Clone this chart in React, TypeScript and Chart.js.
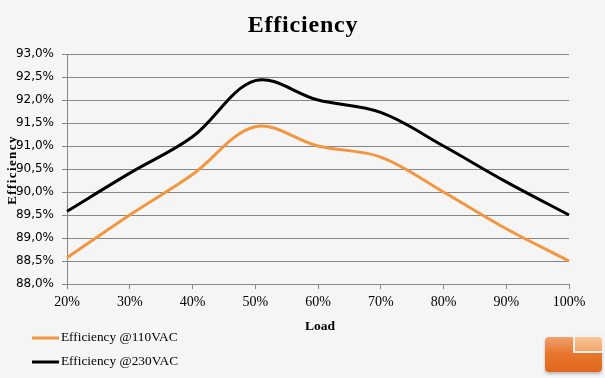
import { useEffect, useRef } from 'react';
import { Chart, registerables } from 'chart.js';

Chart.register(...registerables);

// ---- data ----
const loadLabels = ['20%', '30%', '40%', '50%', '60%', '70%', '80%', '90%', '100%'];
const eff110 = [88.57, 89.5, 90.38, 91.42, 91.0, 90.76, 90.0, 89.2, 88.5];
const eff230 = [89.58, 90.41, 91.2, 92.42, 92.0, 91.73, 91.0, 90.22, 89.5];
const series110Label = 'Efficiency @110VAC';
const series230Label = 'Efficiency @230VAC';
const yMin = 88;
const yMax = 93;
const yStep = 0.5;
const chartTitle = 'Efficiency';
const xTitle = 'Load';
const yTitle = 'Efficiency';

const GRID = '#868686';
const SERIF = '"Liberation Serif", "Times New Roman", serif';

const textPlugin = {
  id: 'excelTexts',
  afterDraw(chart: any) {
    const ctx = chart.ctx as CanvasRenderingContext2D;
    const area = chart.chartArea;
    ctx.save();
    ctx.fillStyle = '#000';
    ctx.textAlign = 'center';
    ctx.textBaseline = 'alphabetic';
    (ctx as any).letterSpacing = '0.8px';
    ctx.font = `bold 24px ${SERIF}`;
    ctx.fillText(chartTitle, chart.width / 2 + 0.5, 32);
    (ctx as any).letterSpacing = '0px';
    ctx.font = `bold 13.5px ${SERIF}`;
    ctx.fillText(xTitle, (area.left + area.right) / 2 + 2, 329.5);
    ctx.restore();

    ctx.save();
    ctx.fillStyle = '#000';
    ctx.translate(13, (area.top + area.bottom) / 2 + 1);
    ctx.rotate(-Math.PI / 2);
    (ctx as any).letterSpacing = '1.4px';
    ctx.textAlign = 'center';
    ctx.textBaseline = 'middle';
    ctx.font = `bold 13px ${SERIF}`;
    ctx.fillText(yTitle, 0, 0);
    ctx.restore();

    // legend
    ctx.save();
    chart.data.datasets.forEach((ds: any, i: number) => {
      const y = 338 + i * 24;
      ctx.strokeStyle = ds.borderColor;
      ctx.lineWidth = 3;
      ctx.beginPath();
      ctx.moveTo(32, y);
      ctx.lineTo(59, y);
      ctx.stroke();
      ctx.fillStyle = '#000';
      ctx.textAlign = 'left';
      ctx.textBaseline = 'middle';
      ctx.font = `13.3px ${SERIF}`;
      ctx.fillText(ds.label, 61, y);
    });
    ctx.restore();
  },
};

export default function App() {
  const canvasRef = useRef<HTMLCanvasElement | null>(null);

  useEffect(() => {
    document.body.style.margin = '0';
    document.body.style.background = '#f5f5f5';
    const canvas = canvasRef.current;
    if (!canvas) return;
    const chart = new Chart(canvas, {
      type: 'line',
      data: {
        labels: loadLabels,
        datasets: [
          {
            label: series110Label,
            data: eff110,
            borderColor: '#F39640',
            backgroundColor: '#F39640',
            borderWidth: 3,
            pointRadius: 0,
            tension: 0.35,
            fill: false,
          },
          {
            label: series230Label,
            data: eff230,
            borderColor: '#000000',
            backgroundColor: '#000000',
            borderWidth: 3,
            pointRadius: 0,
            tension: 0.35,
            fill: false,
          },
        ],
      },
      options: {
        animation: false,
        responsive: true,
        maintainAspectRatio: false,
        layout: { padding: { top: 54, left: 0, right: 36, bottom: 64 } },
        plugins: {
          legend: { display: false },
          title: { display: false },
          tooltip: { enabled: false },
        },
        scales: {
          x: {
            type: 'category',
            offset: false,
            grid: {
              display: true,
              drawOnChartArea: false,
              drawTicks: true,
              tickLength: 5,
              color: GRID,
            },
            border: { display: true, color: GRID },
            ticks: {
              color: '#000',
              font: { family: SERIF, size: 14 },
              padding: 5,
              maxRotation: 0,
              autoSkip: false,
            },
            afterFit(scale: any) {
              scale.height = 30;
            },
          },
          y: {
            type: 'linear',
            min: yMin,
            max: yMax,
            grid: { color: GRID, tickLength: 5 },
            border: { display: true, color: GRID },
            ticks: {
              stepSize: yStep,
              color: '#000',
              padding: 8,
              font: { family: '"DejaVu Sans", Verdana, sans-serif', size: 12 },
              callback: (v: any) => Number(v).toFixed(1).replace('.', ',') + '%',
            },
            afterFit(scale: any) {
              scale.width = 67;
            },
          },
        },
      },
      plugins: [textPlugin],
    } as any);
    return () => chart.destroy();
  }, []);

  const orange = 'linear-gradient(180deg, #f0a070 0%, #e8782e 45%, #e0661c 100%)';
  return (
    <div
      style={{
        position: 'relative',
        width: 605,
        height: 378,
        background: '#f5f5f5',
        overflow: 'hidden',
      }}
    >
      <canvas ref={canvasRef} />
      {/* logo */}
      <div
        style={{
          position: 'absolute',
          left: 545,
          top: 337,
          width: 57,
          height: 35,
          borderRadius: 4,
          background: orange,
          boxShadow: '0 2px 3px rgba(0,0,0,0.25)',
        }}
      />
      <div
        style={{
          position: 'absolute',
          left: 573,
          top: 335,
          width: 31,
          height: 18,
          background: '#f2f0ee',
        }}
      />
      <div
        style={{
          position: 'absolute',
          left: 575,
          top: 337,
          width: 27,
          height: 14,
          borderTopRightRadius: 4,
          background: 'linear-gradient(180deg, #f8c89c 0%, #f2a466 100%)',
        }}
      />
    </div>
  );
}
